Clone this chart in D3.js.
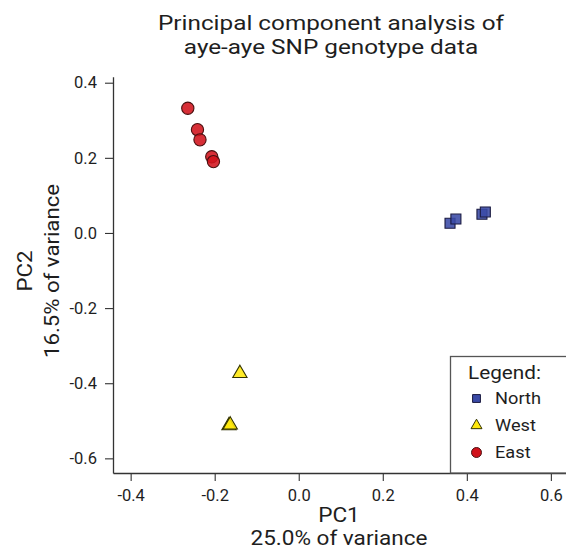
<!DOCTYPE html>
<html>
<head>
<meta charset="utf-8">
<script src="https://cdn.jsdelivr.net/npm/d3@7"></script>
<style>
  html, body { margin: 0; padding: 0; background: #fff; }
  svg { display: block; font-family: Roboto, "Open Sans", sans-serif; }
</style>
</head>
<body>
<svg id="chart" width="566" height="557"></svg>
<script>
// ---- data ----
const titleLines = ["Principal component analysis of", "aye-aye SNP genotype data"];
const xTitle = ["PC1", "25.0% of variance"];
const yTitle = ["PC2", "16.5% of variance"];
const xTicks = [-0.4, -0.2, 0.0, 0.2, 0.4, 0.6];
const yTicks = [-0.6, -0.4, -0.2, 0.0, 0.2, 0.4];
const groups = ["North", "West", "East"];

const northPC1 = [0.360, 0.374, 0.436, 0.444];
const northPC2 = [0.026, 0.037, 0.050, 0.056];
const westPC1 = [-0.140, -0.166, -0.163];
const westPC2 = [-0.374, -0.513, -0.511];
const eastPC1 = [-0.264, -0.241, -0.235, -0.207, -0.203];
const eastPC2 = [0.332, 0.275, 0.248, 0.203, 0.190];

// ---- styles ----
const fills = { North: "#3a4aa6", West: "#ffe80a", East: "#d1121b" };
const strokes = { North: "#1a1a40", West: "#333300", East: "#4a1010" };
const shapes = { North: d3.symbolSquare, West: d3.symbolTriangle, East: d3.symbolCircle };
const sizes = { North: 100, West: 88, East: 118 };
const legendSizes = { North: 62, West: 52, East: 78 };
const textColor = "#1e1e1e";

const svg = d3.select("#chart");
const mLeft = 113, mRight = 566, mTop = 76.7, mBottom = 473;

const x = d3.scaleLinear().domain([-0.442, 0.636]).range([mLeft, mRight]);
const y = d3.scaleLinear().domain([-0.639, 0.416]).range([mBottom, mTop]);

const fmt = v => (v < 0 ? "-" : "") + Math.abs(v).toFixed(1);
const axisColor = "#333";

// stretch a group of texts by a common factor so that the reference line gets the target width
function widen(sel, refIndex, target) {
  const nodes = sel.nodes();
  const k = target / nodes[refIndex].getComputedTextLength();
  nodes.forEach(n => {
    const w = n.getComputedTextLength();
    n.setAttribute("textLength", (w * k).toFixed(1));
    n.setAttribute("lengthAdjust", "spacingAndGlyphs");
  });
}

// title
const tt = svg.append("g").selectAll("text").data(titleLines).join("text")
  .attr("x", 331).attr("y", (d, i) => 30.2 + i * 23.3)
  .attr("text-anchor", "middle").attr("font-size", 20).attr("fill", textColor)
  .text(d => d);
widen(tt, 0, 346);

// x axis
const gx = svg.append("g").attr("transform", `translate(0,${mBottom})`)
  .call(d3.axisBottom(x).tickValues(xTicks).tickFormat(fmt).tickSize(8).tickSizeOuter(0));
gx.select(".domain").attr("stroke", axisColor).attr("stroke-width", 1.3);
gx.selectAll(".tick line").attr("stroke", axisColor).attr("stroke-width", 1.1);
gx.selectAll(".tick text").attr("font-size", 16.5).attr("fill", textColor)
  .attr("font-family", "Roboto, sans-serif").attr("y", 27.5).attr("dy", 0);

// y axis
const gy = svg.append("g").attr("transform", `translate(${mLeft},0)`)
  .call(d3.axisLeft(y).tickValues(yTicks).tickFormat(fmt).tickSize(8).tickSizeOuter(0));
gy.select(".domain").attr("stroke", axisColor).attr("stroke-width", 1.3);
gy.selectAll(".tick line").attr("stroke", axisColor).attr("stroke-width", 1.1);
gy.selectAll(".tick text").attr("font-size", 16.5).attr("fill", textColor)
  .attr("font-family", "Roboto, sans-serif").attr("x", -16);

// axis titles
const xt = svg.append("g").selectAll("text").data(xTitle).join("text")
  .attr("x", 339).attr("y", (d, i) => 522 + i * 23)
  .attr("text-anchor", "middle").attr("font-size", 19.5).attr("fill", textColor)
  .text(d => d);
widen(xt, 1, 177);
const yt = svg.append("g").selectAll("text").data(yTitle).join("text")
  .attr("transform", (d, i) => `translate(${32 + i * 26.5},271) rotate(-90)`)
  .attr("text-anchor", "middle").attr("font-size", 19.5).attr("fill", textColor)
  .text(d => d);
widen(yt, 1, 174);

// points
const pts = [];
northPC1.forEach((v, i) => pts.push({ g: "North", pc1: v, pc2: northPC2[i] }));
westPC1.forEach((v, i) => pts.push({ g: "West", pc1: v, pc2: westPC2[i] }));
eastPC1.forEach((v, i) => pts.push({ g: "East", pc1: v, pc2: eastPC2[i] }));

svg.append("g").selectAll("path").data(pts).join("path")
  .attr("transform", d => `translate(${x(d.pc1)},${y(d.pc2)})`)
  .attr("d", d => d3.symbol().type(shapes[d.g]).size(sizes[d.g])())
  .attr("fill", d => fills[d.g]).attr("fill-opacity", 0.88)
  .attr("stroke", d => strokes[d.g]).attr("stroke-width", 1.1);

// legend
const lg = svg.append("g");
lg.append("rect")
  .attr("x", 450.5).attr("y", 356.5).attr("width", 130).attr("height", mBottom - 356.5)
  .attr("fill", "#fff").attr("stroke", "#555").attr("stroke-width", 1.3);
const lt = lg.append("text").attr("x", 468).attr("y", 378.5).attr("font-size", 17.5)
  .attr("fill", textColor).text("Legend:");
widen(lt, 0, 73);
const items = lg.selectAll("g.item").data(groups).join("g")
  .attr("transform", (d, i) => `translate(476.5,${398.5 + i * 27})`);
items.append("path")
  .attr("d", d => d3.symbol().type(shapes[d]).size(legendSizes[d])())
  .attr("fill", d => fills[d]).attr("stroke", d => strokes[d]).attr("stroke-width", 1);
const it = items.append("text").attr("x", 18.5).attr("y", 5.5).attr("font-size", 17)
  .attr("fill", textColor).text(d => d);
widen(it, 0, 46);
</script>
</body>
</html>
